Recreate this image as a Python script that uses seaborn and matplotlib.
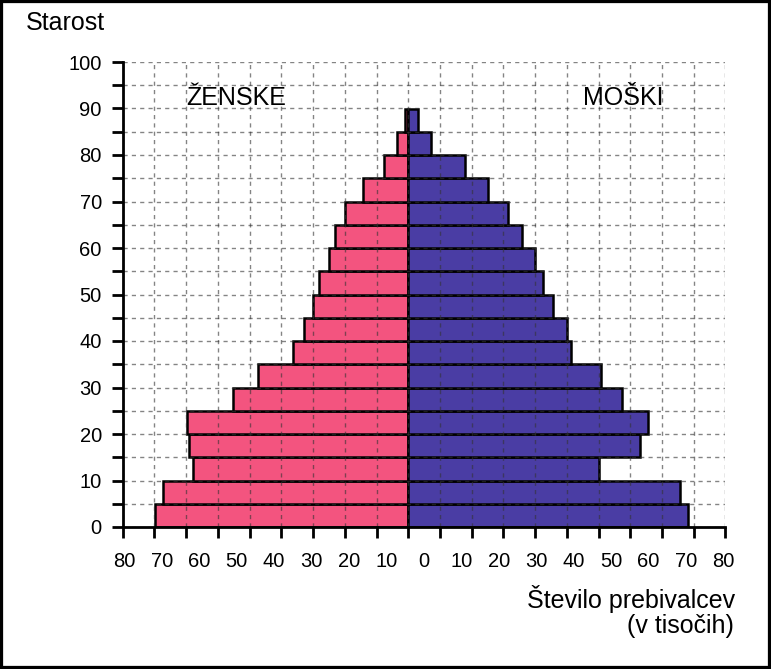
import numpy as np
import pandas as pd
import matplotlib
matplotlib.use("Agg")
import matplotlib.pyplot as plt
import seaborn as sns
from matplotlib.patches import Rectangle
from matplotlib.ticker import MultipleLocator, FixedLocator

# ---------------- data (thousands; one grid cell = 10) ----------------
age_groups = ["0-4", "5-9", "10-14", "15-19", "20-24", "25-29", "30-34", "35-39",
              "40-44", "45-49", "50-54", "55-59", "60-64", "65-69", "70-74",
              "75-79", "80-84", "85-89"]
age_mid = [2.5, 7.5, 12.5, 17.5, 22.5, 27.5, 32.5, 37.5, 42.5, 47.5, 52.5,
           57.5, 62.5, 67.5, 72.5, 77.5, 82.5, 87.5]
female = [79.8, 77.2, 67.9, 69.0, 69.6, 55.3, 47.2, 36.4, 32.8, 30.0, 28.2,
          24.9, 23.0, 19.9, 14.4, 7.5, 3.4, 1.0]
male = [88.1, 85.6, 60.0, 73.0, 75.5, 67.4, 60.9, 51.3, 50.1, 45.6, 42.5,
        40.1, 35.9, 31.6, 25.0, 18.0, 7.2, 3.2]
x_tick_labels = ["80", "70", "60", "50", "40", "30", "20", "10", "0",
                 "10", "20", "30", "40", "50", "60", "70", "80"]
y_tick_values = [0, 10, 20, 30, 40, 50, 60, 70, 80, 90, 100]

df = pd.DataFrame({
    "age": age_mid + age_mid,
    "value": [-v for v in female] + male,
    "sex": ["Ženske"] * len(female) + ["Moški"] * len(male),
})

# ---------------- style ----------------
sns.set_style("white")
plt.rcParams["font.family"] = ["Liberation Sans", "DejaVu Sans"]
plt.rcParams["text.color"] = "black"
plt.rcParams["xtick.color"] = "black"
plt.rcParams["ytick.color"] = "black"
plt.rcParams["xtick.labelcolor"] = "black"
plt.rcParams["ytick.labelcolor"] = "black"

fig = plt.figure(figsize=(7.71, 6.69), dpi=100)
ax = fig.add_axes([122.7 / 771, (669 - 527) / 669, (725.5 - 122.7) / 771, (527 - 62) / 669])

palette = {"Ženske": "#F3547F", "Moški": "#4A3DA4"}
sns.barplot(data=df, x="value", y="age", hue="sex", orient="h", native_scale=True,
            dodge=False, width=1, palette=palette, edgecolor="black", linewidth=1.8,
            errorbar=None, legend=False, saturation=1, ax=ax, zorder=2)

ax.set_xlim(-90, 100)
ax.set_ylim(0, 100)
ax.set_xlabel("")
ax.set_ylabel("")

for s in ["top", "right"]:
    ax.spines[s].set_visible(False)
for s in ["left", "bottom"]:
    ax.spines[s].set_linewidth(2)
    ax.spines[s].set_color("black")
    ax.spines[s].set_zorder(5)

# x axis: tick marks on the grid, labels evenly spread as in the reference
ax.xaxis.set_minor_locator(MultipleLocator(10))
ax.xaxis.set_major_locator(FixedLocator(np.linspace(-89.5, 99.4, len(x_tick_labels))))
ax.set_xticklabels(x_tick_labels)
ax.tick_params(axis="x", which="major", length=0, pad=18, labelsize=14.5,
               labelcolor="black")
ax.tick_params(axis="x", which="minor", length=8, width=2, color="black",
               direction="out", bottom=True)

# y axis
ax.yaxis.set_major_locator(FixedLocator(y_tick_values))
ax.yaxis.set_minor_locator(MultipleLocator(5))
ax.tick_params(axis="y", which="both", length=8, width=2, color="black",
               direction="out", left=True, pad=7, labelsize=14.5, labelcolor="black")

# grid (drawn over the bars, as in the reference)
ax.set_axisbelow(False)
ax.xaxis.grid(True, which="minor", linestyle=(0, (3, 3)), color="#333333",
              linewidth=1, alpha=0.6)
ax.yaxis.grid(True, which="both", linestyle=(0, (3, 3)), color="#333333",
              linewidth=1, alpha=0.6)
ax.xaxis.grid(False, which="major")

# labels
ax.text(-70, 90.75, "ŽENSKE", fontsize=18, ha="left", va="baseline", zorder=6,
        color="black")
ax.text(55, 90.75, "MOŠKI", fontsize=18, ha="left", va="baseline", zorder=6,
        color="black")
fig.text(26 / 771, 1 - 23 / 669, "Starost", fontsize=18, ha="left", va="center",
         color="black")
fig.text(735 / 771, 1 - 608 / 669, "Število prebivalcev", fontsize=18,
         ha="right", va="baseline", color="black")
fig.text(734 / 771, 1 - 633 / 669, "(v tisočih)", fontsize=18,
         ha="right", va="baseline", color="black")

# outer frame
fig.patches.append(Rectangle((0, 0), 1, 1, transform=fig.transFigure, fill=False,
                             linewidth=4.5, edgecolor="black"))

fig.savefig("out.png", dpi=100)
